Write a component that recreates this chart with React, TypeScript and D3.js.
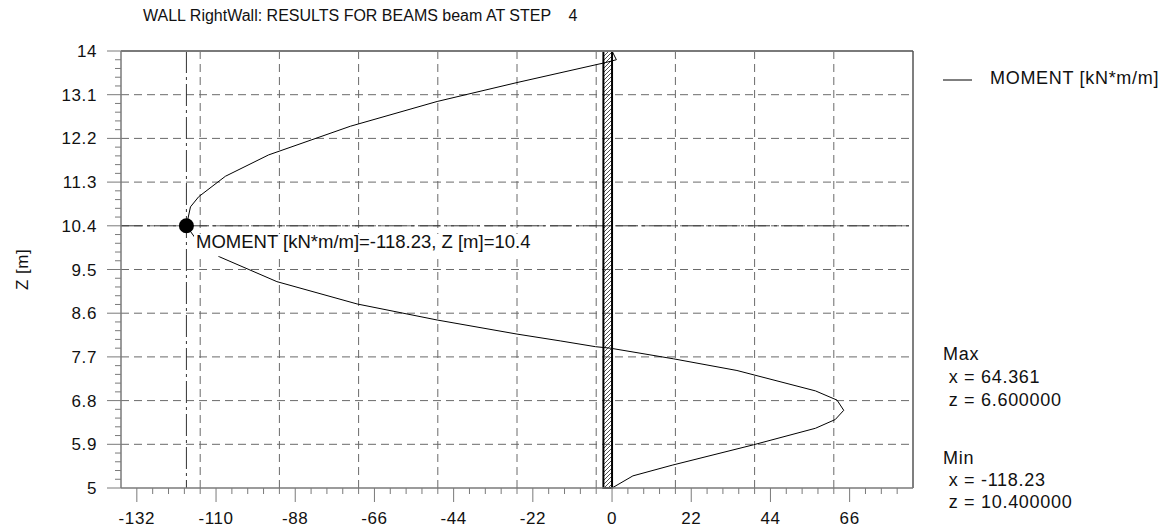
import React from "react";
import * as d3 from "d3";

const zValues = [5.0, 5.25, 5.47, 5.89, 6.23, 6.41, 6.6, 6.81, 7.0, 7.42, 7.66, 7.88, 7.91, 8.03, 8.17, 8.46, 8.79, 9.25, 9.76, 10.14, 10.4, 10.79, 11.0, 11.42, 11.86, 12.45, 12.96, 13.35, 13.76, 13.82, 14.0];
const momentValues = [0, 5.8, 16.7, 39.3, 56.5, 62.0, 64.361, 62.5, 56.5, 34.7, 17.1, -0.5, -4.6, -14.4, -26.4, -48.6, -70.8, -93.1, -109.0, -115.7, -118.23, -117.1, -114.8, -107.4, -95.4, -72.7, -48.6, -26.4, -1.9, 1.2, 0];
const xTickValues = [-132, -110, -88, -66, -44, -22, 0, 22, 44, 66];
const yTickValues = [5, 5.9, 6.8, 7.7, 8.6, 9.5, 10.4, 11.3, 12.2, 13.1, 14];
const xDomain = [-136.4, 83.6];
const yDomain = [5, 14];
const minPoint = { x: -118.23, z: 10.4 };
const wallRange = [-2.4, 0];
const title = "WALL RightWall: RESULTS FOR BEAMS beam AT STEP    4";
const seriesName = "MOMENT [kN*m/m]";
const yAxisTitle = "Z [m]";
const pointLabel = "MOMENT [kN*m/m]=-118.23, Z [m]=10.4";
const maxLines = ["Max", " x = 64.361", " z = 6.600000"];
const minLines = ["Min", " x = -118.23", " z = 10.400000"];

const FONT = "'Liberation Sans', Arial, sans-serif";

export default function App() {
  const left = 121, right = 913, top = 51, bottom = 488;
  const x = d3.scaleLinear().domain(xDomain).range([left, right]);
  const y = d3.scaleLinear().domain(yDomain).range([bottom, top]);

  const xGrid = d3.range(1, 10).map((i) => xDomain[0] + 22 * i);
  const yGrid = yTickValues.slice(1, -1);
  const xMinor = d3.range(1, 50).map((i) => xDomain[0] + 4.4 * i).filter((v) => v < xDomain[1] - 0.01 && !xTickValues.some((t) => Math.abs(t - v) < 0.01));
  const yMinor = d3.range(1, 50).map((i) => yDomain[0] + 0.18 * i).filter((v) => v < yDomain[1] - 0.01 && !yTickValues.some((t) => Math.abs(t - v) < 0.01));

  const pts = zValues.map((z, i) => [momentValues[i], z] as [number, number]);
  const line = d3.line<[number, number]>().x((d) => x(d[0])).y((d) => y(d[1]));

  const gridColor = "#6a6a6a";
  const axisColor = "#7a7a7a";
  const wx0 = x(wallRange[0]);
  const wx1 = x(wallRange[1]);
  const pre = { whiteSpace: "pre" } as React.CSSProperties;

  return (
    <svg width={1171} height={529} style={{ position: "absolute", left: 0, top: 0, background: "#fff" }} fontFamily={FONT}>
      <defs>
        <pattern id="hatch" patternUnits="userSpaceOnUse" width={4} height={4}>
          <path d="M-1,5 L5,-1" stroke="#222" strokeWidth={0.8} />
          <path d="M-1,1 L1,-1 M3,5 L5,3" stroke="#222" strokeWidth={0.8} />
        </pattern>
        <clipPath id="plotclip">
          <rect x={left} y={top - 2} width={right - left + 10} height={bottom - top + 4} />
        </clipPath>
      </defs>
      <rect x={0} y={0} width={1171} height={529} fill="#fff" />

      {/* title */}
      <text x={143} y={21} fontSize={16} fill="#111" style={pre} xmlSpace="preserve">{title}</text>

      {/* grid */}
      {xGrid.map((v) => (
        <line key={"gx" + v} x1={x(v)} x2={x(v)} y1={top} y2={bottom} stroke={gridColor} strokeWidth={1} strokeDasharray="8,5" />
      ))}
      {yGrid.map((v) => (
        <line key={"gy" + v} x1={left} x2={right} y1={y(v)} y2={y(v)} stroke={gridColor} strokeWidth={1} strokeDasharray="8,5" />
      ))}

      {/* min crosshair */}
      <line x1={x(minPoint.x)} x2={x(minPoint.x)} y1={top} y2={bottom} stroke="#333" strokeWidth={1} strokeDasharray="22,4,3,4" />
      <line x1={left} x2={right} y1={y(minPoint.z)} y2={y(minPoint.z)} stroke="#333" strokeWidth={1} strokeDasharray="22,4,3,4" />

      {/* wall */}
      <rect x={wx0} y={top} width={wx1 - wx0} height={bottom - top} fill="url(#hatch)" stroke="#000" strokeWidth={2} />

      {/* curve */}
      <path d={line(pts) || ""} fill="none" stroke="#000" strokeWidth={1} clipPath="url(#plotclip)" />

      {/* min marker */}
      <circle cx={x(minPoint.x)} cy={y(minPoint.z)} r={7.5} fill="#000" />

      {/* point label */}
      <rect x={194} y={234} width={366} height={22} fill="#fff" />
      <text x={196} y={248} fontSize={18.5} fill="#111">{pointLabel}</text>

      {/* frame */}
      <line x1={left} x2={right} y1={top} y2={top} stroke={axisColor} strokeWidth={2} />
      <line x1={right} x2={right} y1={top} y2={bottom} stroke="#555" strokeWidth={1.5} />
      <line x1={left} x2={left} y1={top} y2={bottom} stroke={axisColor} strokeWidth={1.5} />
      <line x1={left} x2={right} y1={bottom} y2={bottom} stroke={axisColor} strokeWidth={1.5} />

      {/* x ticks */}
      {xTickValues.map((v) => (
        <g key={"xt" + v}>
          <line x1={x(v)} x2={x(v)} y1={bottom} y2={bottom + 14} stroke={axisColor} strokeWidth={1} />
          <text x={x(v)} y={524} fontSize={17} letterSpacing={0.6} textAnchor="middle" fill="#111">{v}</text>
        </g>
      ))}
      {xMinor.map((v) => (
        <line key={"xm" + v} x1={x(v)} x2={x(v)} y1={bottom} y2={bottom + 6} stroke={axisColor} strokeWidth={1} />
      ))}

      {/* y ticks */}
      {yTickValues.map((v) => (
        <g key={"yt" + v}>
          <line x1={left - 14} x2={left} y1={y(v)} y2={y(v)} stroke={axisColor} strokeWidth={1} />
          <text x={97} y={y(v) + 6} fontSize={17} letterSpacing={0.6} textAnchor="end" fill="#111">{d3.format("~g")(v)}</text>
        </g>
      ))}
      {yMinor.map((v) => (
        <line key={"ym" + v} x1={left - 6} x2={left} y1={y(v)} y2={y(v)} stroke={axisColor} strokeWidth={1} />
      ))}

      {/* y axis title */}
      <text transform={`translate(28, ${(top + bottom) / 2}) rotate(-90)`} fontSize={17} letterSpacing={0.5} textAnchor="middle" fill="#111">{yAxisTitle}</text>

      {/* legend */}
      <line x1={943} x2={972} y1={80} y2={80} stroke="#000" strokeWidth={1} />
      <text x={990} y={84} fontSize={18} letterSpacing={0.7} fill="#111">{seriesName}</text>

      {/* max/min info */}
      {maxLines.map((t, i) => (
        <text key={"mx" + i} x={943} y={360 + i * 23} fontSize={18} letterSpacing={0.7} fill="#111" style={pre} xmlSpace="preserve">{t}</text>
      ))}
      {minLines.map((t, i) => (
        <text key={"mn" + i} x={943} y={464 + i * 22} fontSize={18} letterSpacing={0.7} fill="#111" style={pre} xmlSpace="preserve">{t}</text>
      ))}
    </svg>
  );
}
